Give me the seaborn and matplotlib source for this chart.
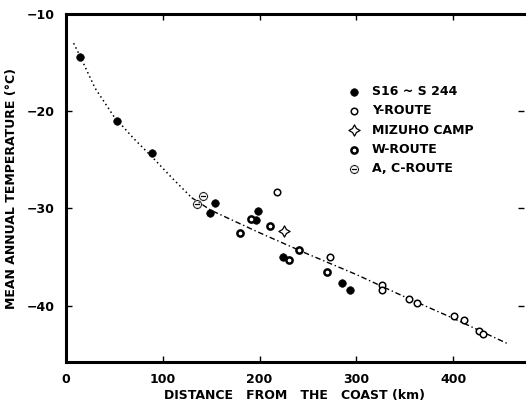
import matplotlib
matplotlib.use("Agg")
import matplotlib.pyplot as plt
import numpy as np
import pandas as pd
import seaborn as sns

# station data (distance km, temperature degC)
s_x = [14.5, 53, 88.6, 149, 154, 196.5, 198.6, 224.7, 285, 293.7]
s_y = [-14.4, -21.0, -24.3, -30.5, -29.4, -31.2, -30.3, -35.0, -37.7, -38.4]

y_x = [218, 273, 326.5, 326.5, 354, 362.6, 401, 411, 427, 430.5]
y_y = [-28.3, -35.0, -37.85, -38.4, -39.3, -39.7, -41.1, -41.5, -42.6, -42.9]

mizuho_x = [225.4]
mizuho_y = [-32.3]

w_x = [180, 191, 211, 230.6, 241, 269.6]
w_y = [-32.5, -31.1, -31.8, -35.3, -34.3, -36.5]

ac_x = [135, 142]
ac_y = [-29.5, -28.7]

# fitted curve: dotted part near the coast, dash-dot part inland
dot_x = [8, 15, 30, 50, 70, 90, 110, 130]
dot_y = [-13.0, -14.4, -17.6, -20.6, -22.8, -24.8, -26.9, -28.9]
dash_x = [130, 150, 200, 250, 300, 350, 400, 456]
dash_y = [-28.9, -30.2, -32.5, -34.7, -36.8, -39.1, -41.3, -43.9]

sns.set_style("ticks")
plt.rcParams['font.family'] = ['DejaVu Sans']
plt.rcParams['font.weight'] = 'bold'
for key in ['text.color', 'axes.labelcolor', 'xtick.color', 'ytick.color',
            'axes.edgecolor']:
    plt.rcParams[key] = 'black'

fig = plt.figure(figsize=(5.27, 4.03), dpi=100)
ax = fig.add_axes([0.125, 0.1017, 0.869, 0.8635])

sns.lineplot(x=dot_x, y=dot_y, ax=ax, color='black', linestyle=(0, (1, 2)),
             linewidth=1.1, sort=False)
sns.lineplot(x=dash_x, y=dash_y, ax=ax, color='black', linestyle=(0, (4, 2, 1, 2)),
             linewidth=1.0, sort=False)

sns.scatterplot(x=s_x, y=s_y, ax=ax, marker='o', s=30, color='black',
                edgecolor='black', label='S16 ~ S 244', zorder=3)
sns.scatterplot(x=y_x, y=y_y, ax=ax, marker='o', s=22, facecolor='white',
                edgecolor='black', linewidth=1.1, label='Y-ROUTE', zorder=3)
sns.scatterplot(x=mizuho_x, y=mizuho_y, ax=ax, marker=(4, 1, 0), s=65,
                facecolor='white', edgecolor='black', linewidth=0.9,
                label='MIZUHO CAMP', zorder=3)
sns.scatterplot(x=w_x, y=w_y, ax=ax, marker='o', s=20, facecolor='white',
                edgecolor='black', linewidth=1.8, label='W-ROUTE', zorder=3)
sns.scatterplot(x=ac_x, y=ac_y, ax=ax, marker=r'$\ominus$', s=45, color='black',
                linewidth=0.3, label='A, C-ROUTE', zorder=3)

ax.set_xlim(0, 473)
ax.set_ylim(-45.8, -10)
ax.set_xticks([0, 100, 200, 300, 400])
ax.set_xticklabels(['0', '100', '200', '300', '400'])
ax.set_yticks([-10, -20, -30, -40])
ax.tick_params(direction='in', length=4, width=1, labelsize=9,
               top=True, right=True, pad=8)
for side in ['left', 'bottom', 'top']:
    ax.spines[side].set_linewidth(2.2)
ax.spines['right'].set_visible(False)

ax.set_xlabel('DISTANCE   FROM   THE   COAST (km)', fontsize=9, fontweight='bold',
              labelpad=2)
ax.set_ylabel('MEAN ANNUAL TEMPERATURE (°C)', fontsize=9, fontweight='bold',
              labelpad=6)

leg = ax.legend(loc='upper left', bbox_to_anchor=(0.605, 0.81), frameon=False,
                fontsize=9, handletextpad=0.9, labelspacing=0.5,
                handlelength=1.0, borderaxespad=0)
for t in leg.get_texts():
    t.set_fontweight('bold')

fig.savefig('out.png', dpi=100)
